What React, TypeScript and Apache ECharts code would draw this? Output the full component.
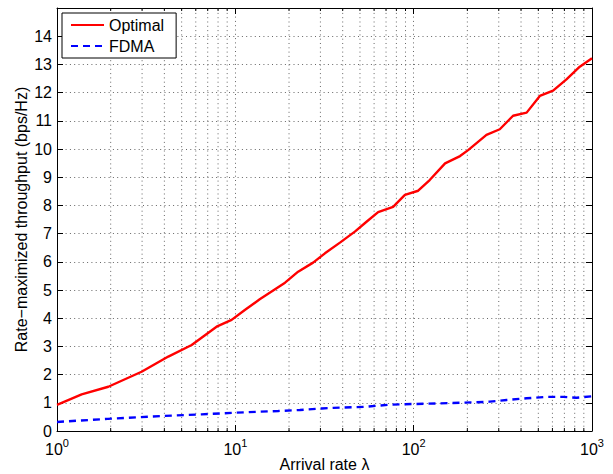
import React, { useEffect, useRef } from "react";
import * as echarts from "echarts";

const seriesNames = ["Optimal", "FDMA"];
const optimalX = [1, 1.375, 1.94, 2.98, 4.21, 5.69, 7.85, 9.53, 11.3, 13.7, 19.0, 22.5, 27.3, 31.8, 38.6, 46.8, 54.4, 63.2, 76.7, 89.3, 106, 123, 150, 182, 202, 256, 304, 361, 430, 510, 605, 719, 854, 1000];
const optimalY = [0.93, 1.3, 1.57, 2.1, 2.64, 3.05, 3.7, 3.94, 4.29, 4.67, 5.26, 5.65, 5.97, 6.3, 6.68, 7.07, 7.42, 7.76, 7.95, 8.37, 8.52, 8.9, 9.49, 9.75, 9.96, 10.5, 10.7, 11.18, 11.29, 11.88, 12.07, 12.47, 12.92, 13.22];
const fdmaX = [1, 1.93, 3.86, 6.47, 9.95, 17.4, 23.0, 30.5, 35.4, 54.4, 71.9, 89.3, 104, 160, 225, 267, 332, 430, 556, 689, 819, 1000];
const fdmaY = [0.32, 0.43, 0.53, 0.59, 0.65, 0.71, 0.745, 0.8, 0.82, 0.86, 0.93, 0.95, 0.96, 0.99, 1.02, 1.04, 1.1, 1.16, 1.21, 1.21, 1.18, 1.23];
const minorX = [2, 3, 4, 5, 6, 7, 8, 9, 20, 30, 40, 50, 60, 70, 80, 90, 200, 300, 400, 500, 600, 700, 800, 900];
const xMin = 1;
const xMax = 1000;
const yMin = 0;
const yMax = 15;
const xName = "Arrival rate λ";
const yName = "Rate−maximized throughput (bps/Hz)";

const FONT = "Liberation Sans, Arial, Helvetica, sans-serif";
const GRID_COLOR = "#666";
const GRID_DASH = [1, 3.3];

export default function App() {
  const ref = useRef<HTMLDivElement>(null);
  useEffect(() => {
    document.body.style.margin = "0";
    const chart = echarts.init(ref.current!, null, { renderer: "svg" });
    const optData = optimalX.map((x, i) => [x, optimalY[i]]);
    const fdmaData = fdmaX.map((x, i) => [x, fdmaY[i]]);
    const minorData = minorX.map((x) => [x, 0]);
    chart.setOption({
      animation: false,
      backgroundColor: "#fff",
      textStyle: { fontFamily: FONT },
      grid: { left: 57, right: 21, top: 8, bottom: 43, outerBoundsMode: "none", containLabel: false },
      legend: {
        data: seriesNames,
        orient: "vertical",
        left: 62,
        top: 13,
        padding: [4, 12, 4, 8],
        itemGap: 5,
        itemWidth: 33,
        itemHeight: 14,
        itemTextGap: 5,
        backgroundColor: "#fff",
        borderColor: "#000",
        borderWidth: 1,
        borderRadius: 0,
        itemStyle: { opacity: 0, color: "transparent", borderWidth: 0 },
        textStyle: { fontSize: 16, lineHeight: 16, color: "#000", fontFamily: FONT },
      },
      xAxis: [
        {
          type: "log",
          logBase: 10,
          min: xMin,
          max: xMax,
          name: xName,
          nameLocation: "middle",
          nameGap: 25,
          nameMoveOverlap: false,
          nameTextStyle: { fontSize: 16, color: "#000", fontFamily: FONT },
          axisLine: { show: true, onZero: false, lineStyle: { color: "#000", width: 1 } },
          axisTick: { show: true, inside: true, length: 6, lineStyle: { color: "#000" } },
          axisLabel: {
            margin: 6,
            color: "#000",
            formatter: (v: number) => `{b|10}{s|${Math.round(Math.log10(v))}}`,
            rich: {
              b: { fontSize: 16, fontFamily: FONT, color: "#000", verticalAlign: "bottom" },
              s: { fontSize: 11, fontFamily: FONT, color: "#000", verticalAlign: "bottom", padding: [0, 0, 9, 0] },
            },
          },
          splitLine: { show: true, lineStyle: { color: GRID_COLOR, type: GRID_DASH, width: 1 } },
        },
        {
          type: "log",
          logBase: 10,
          min: xMin,
          max: xMax,
          position: "top",
          axisLine: { show: true, onZero: false, lineStyle: { color: "#000", width: 1 } },
          axisTick: { show: true, inside: true, length: 6, lineStyle: { color: "#000" } },
          axisLabel: { show: false },
          splitLine: { show: false },
        },
      ],
      yAxis: [
        {
          type: "value",
          min: yMin,
          max: yMax,
          interval: 1,
          name: yName,
          nameLocation: "middle",
          nameGap: 28,
          nameMoveOverlap: false,
          nameTextStyle: { fontSize: 16, color: "#000", fontFamily: FONT },
          axisLine: { show: true, onZero: false, lineStyle: { color: "#000", width: 1 } },
          axisTick: { show: true, inside: true, length: 6, lineStyle: { color: "#000" } },
          axisLabel: { fontSize: 16, color: "#000", margin: 5, showMaxLabel: false, fontFamily: FONT },
          splitLine: { show: true, lineStyle: { color: GRID_COLOR, type: GRID_DASH, width: 1 } },
        },
        {
          type: "value",
          min: yMin,
          max: yMax,
          interval: 1,
          position: "right",
          axisLine: { show: true, onZero: false, lineStyle: { color: "#000", width: 1 } },
          axisTick: { show: true, inside: true, length: 6, lineStyle: { color: "#000" } },
          axisLabel: { show: false },
          splitLine: { show: false },
        },
      ],
      series: [
        {
          type: "custom",
          name: "minor",
          xAxisIndex: 0,
          yAxisIndex: 0,
          z: 1,
          silent: true,
          data: minorData,
          renderItem: (params: any, api: any) => {
            const x = api.value(0);
            const p0 = api.coord([x, yMin]);
            const p1 = api.coord([x, yMax]);
            return {
              type: "group",
              children: [
                {
                  type: "line",
                  shape: { x1: p0[0], y1: p0[1], x2: p1[0], y2: p1[1] },
                  style: { stroke: GRID_COLOR, lineWidth: 1, lineDash: GRID_DASH },
                },
                {
                  type: "line",
                  shape: { x1: p0[0], y1: p0[1], x2: p0[0], y2: p0[1] - 3 },
                  style: { stroke: "#000", lineWidth: 1 },
                },
                {
                  type: "line",
                  shape: { x1: p1[0], y1: p1[1], x2: p1[0], y2: p1[1] + 3 },
                  style: { stroke: "#000", lineWidth: 1 },
                },
              ],
            };
          },
        },
        {
          type: "line",
          name: seriesNames[0],
          data: optData,
          symbol: "none",
          z: 3,
          color: "#ff0000",
          lineStyle: { color: "#ff0000", width: 2.4 },
        },
        {
          type: "line",
          name: seriesNames[1],
          data: fdmaData,
          symbol: "none",
          z: 3,
          color: "#0000ff",
          lineStyle: { color: "#0000ff", width: 2.4, type: [7, 5] },
        },
      ],
    });
    return () => chart.dispose();
  }, []);
  return <div ref={ref} style={{ width: 613, height: 474 }} />;
}
